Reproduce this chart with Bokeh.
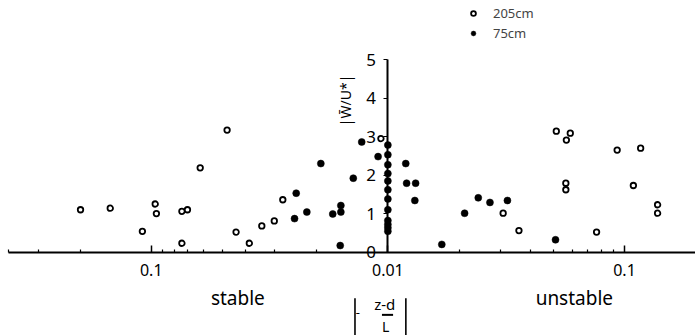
import numpy as np
from bokeh.plotting import figure
from bokeh.models import (LinearAxis, FixedTicker, Range1d, Legend, LegendItem)
from bokeh.embed import file_html
from bokeh.resources import INLINE
from bokeh.core.properties import value

FONT = "Noto Sans"
ZETA0 = 0.01  # both branches of the |(z-d)/L| axis meet here

# ---------------- data ----------------
# 205 cm (open circles)
open_stable_zeta = [0.199, 0.149, 0.0962, 0.0951, 0.109, 0.0742, 0.0703, 0.0742,
                    0.0621, 0.0478, 0.0438, 0.0385, 0.0341, 0.0302, 0.0278, 0.0107]
open_stable_w = [1.11, 1.15, 1.26, 1.01, 0.55, 1.07, 1.11, 0.24,
                 2.20, 3.18, 0.53, 0.24, 0.69, 0.82, 1.37, 2.96]
open_unstable_zeta = [0.0307, 0.0358, 0.0515, 0.059, 0.0568, 0.0565, 0.0565,
                      0.0762, 0.0931, 0.117, 0.109, 0.138, 0.138]
open_unstable_w = [1.02, 0.57, 3.15, 3.10, 2.92, 1.80, 1.63,
                   0.53, 2.66, 2.71, 1.74, 1.24, 1.02]

# 75 cm (filled circles)
filled_stable_zeta = [0.0244, 0.0248, 0.0220, 0.0192, 0.0171, 0.0158, 0.0158,
                      0.0159, 0.0140, 0.0129, 0.0110]
filled_stable_w = [1.54, 0.88, 1.05, 2.31, 1.00, 1.22, 1.05,
                   0.18, 1.93, 2.87, 2.49]
filled_neutral_zeta = [0.01, 0.01, 0.01, 0.01, 0.01, 0.01,
                       0.01, 0.01, 0.01, 0.01, 0.01, 0.01]
filled_neutral_w = [2.79, 2.54, 2.28, 2.05, 1.86, 1.63,
                    1.39, 1.11, 0.83, 0.73, 0.64, 0.55]
filled_unstable_zeta = [0.0119, 0.0120, 0.0131, 0.0130, 0.0169, 0.0211,
                        0.0241, 0.0270, 0.0320, 0.0511]
filled_unstable_w = [2.31, 1.80, 1.80, 1.35, 0.21, 1.02,
                     1.42, 1.30, 1.35, 0.33]

# axis ticks
x_major_side = ["stable", "neutral", "unstable"]
x_major_zeta = [0.1, 0.01, 0.1]
x_tick_labels = ["0.1", "0.01", "0.1"]
stable_minor_zeta = [0.02, 0.03, 0.04, 0.05, 0.06, 0.07, 0.08, 0.09, 0.2, 0.3, 0.4]
unstable_minor_zeta = [0.02, 0.03, 0.04, 0.05, 0.06, 0.07, 0.08, 0.09, 0.2]
y_ticks = [0, 1, 2, 3, 4, 5]
y_tick_labels = ["0", "1", "2", "3", "4", "5"]
legend_labels = ["205cm", "75cm"]


# signed decades from 0.01: stable to the left, unstable to the right
def stable_x(z):
    return -np.log10(np.asarray(z, dtype=float) / ZETA0)


def unstable_x(z):
    return np.log10(np.asarray(z, dtype=float) / ZETA0)


open_x = np.concatenate([stable_x(open_stable_zeta), unstable_x(open_unstable_zeta)])
open_y = np.concatenate([open_stable_w, open_unstable_w])
filled_x = np.concatenate([stable_x(filled_stable_zeta), unstable_x(filled_neutral_zeta),
                           unstable_x(filled_unstable_zeta)])
filled_y = np.concatenate([filled_stable_w, filled_neutral_w, filled_unstable_w])

major_u = [float(stable_x(z)) if s == "stable" else float(unstable_x(z))
           for s, z in zip(x_major_side, x_major_zeta)]
minor_u = list(stable_x(stable_minor_zeta)) + list(unstable_x(unstable_minor_zeta))

# ---------------- figure ----------------
W, H = 695, 335
p = figure(width=W, height=H, output_backend="svg", toolbar_location=None,
           x_axis_location=None, y_axis_location=None,
           x_range=Range1d(-1.637, 1.30), y_range=Range1d(-2.156, 6.545),
           min_border=0, min_border_left=0, min_border_right=0,
           min_border_top=0, min_border_bottom=0)
p.outline_line_color = None
p.xgrid.visible = False
p.ygrid.visible = False
p.background_fill_color = "white"

# x axis through y = 0
xaxis = LinearAxis(fixed_location=0,
                   ticker=FixedTicker(ticks=major_u, minor_ticks=minor_u),
                   bounds=(float(stable_x(0.4)), float(unstable_x(0.2))))
xaxis.major_label_overrides = {u: lab for u, lab in zip(major_u, x_tick_labels)}
xaxis.axis_line_width = 2
xaxis.axis_line_color = "black"
xaxis.major_tick_in = 7
xaxis.major_tick_out = 0
xaxis.minor_tick_in = 3
xaxis.minor_tick_out = 0
xaxis.major_tick_line_width = 1.5
xaxis.minor_tick_line_width = 1.2
xaxis.major_label_standoff = 12
xaxis.major_label_text_font = FONT
xaxis.major_label_text_font_size = "16px"
xaxis.major_label_text_color = "black"
p.add_layout(xaxis, "below")

# y axis through x = 0 (the 0.01 point)
yaxis = LinearAxis(fixed_location=0, ticker=FixedTicker(ticks=y_ticks),
                   bounds=(y_ticks[0], y_ticks[-1]))
yaxis.major_label_overrides = {t: lab for t, lab in zip(y_ticks, y_tick_labels)}
yaxis.axis_line_width = 2
yaxis.axis_line_color = "black"
yaxis.major_tick_in = 0
yaxis.major_tick_out = 4
yaxis.minor_tick_line_color = None
yaxis.major_label_standoff = 8
yaxis.major_label_text_font = FONT
yaxis.major_label_text_font_size = "17px"
yaxis.major_label_text_color = "black"
p.add_layout(yaxis, "left")

# points
r_open = p.scatter(open_x, open_y, marker="circle", size=5.5, fill_color="white",
                   line_color="black", line_width=1.8)
r_filled = p.scatter(filled_x, filled_y, marker="circle", size=7, fill_color="black",
                     line_color="black", line_width=0.5)

legend = Legend(items=[LegendItem(label=legend_labels[0], renderers=[r_open]),
                       LegendItem(label=legend_labels[1], renderers=[r_filled])],
                location=(467, 293), border_line_color=None, background_fill_alpha=0,
                padding=0, margin=0, spacing=2, glyph_width=12, glyph_height=14,
                label_height=14, label_standoff=14,
                label_text_font=FONT, label_text_font_size="13px")
p.add_layout(legend)

# side labels
p.text(x=[-0.634, 0.788], y=[-1.17, -1.17], text=["stable", "unstable"],
       text_font=value(FONT), text_font_size="19px", text_align="center",
       text_baseline="middle", text_color="black")

# |-(z-d)/L|
p.text(x=[-0.013], y=[-1.34], text=["z-d"], text_font=value(FONT),
       text_font_size="15px", text_align="center", text_baseline="middle",
       text_color="black")
p.text(x=[-0.009], y=[-1.93], text=["L"], text_font=value(FONT),
       text_font_size="14px", text_align="center", text_baseline="middle",
       text_color="black")
p.text(x=[-0.127], y=[-1.55], text=["-"], text_font=value(FONT),
       text_font_size="13px", text_align="center", text_baseline="middle",
       text_color="black")
p.segment(x0=[-0.025], y0=[-1.62], x1=[0.022], y1=[-1.62], line_color="black",
          line_width=2)
p.segment(x0=[-0.139, 0.076], y0=[-1.19, -1.19], x1=[-0.139, 0.076], y1=[-2.2, -2.2],
          line_color="black", line_width=1.6)

# y quantity label
p.text(x=[-0.177], y=[3.95], text=["|W̄/U*|"], angle=np.pi / 2,
       text_font=value(FONT), text_font_size="14px", text_align="center",
       text_baseline="middle", text_color="black")

open("out.html", "w").write(file_html(p, INLINE))
